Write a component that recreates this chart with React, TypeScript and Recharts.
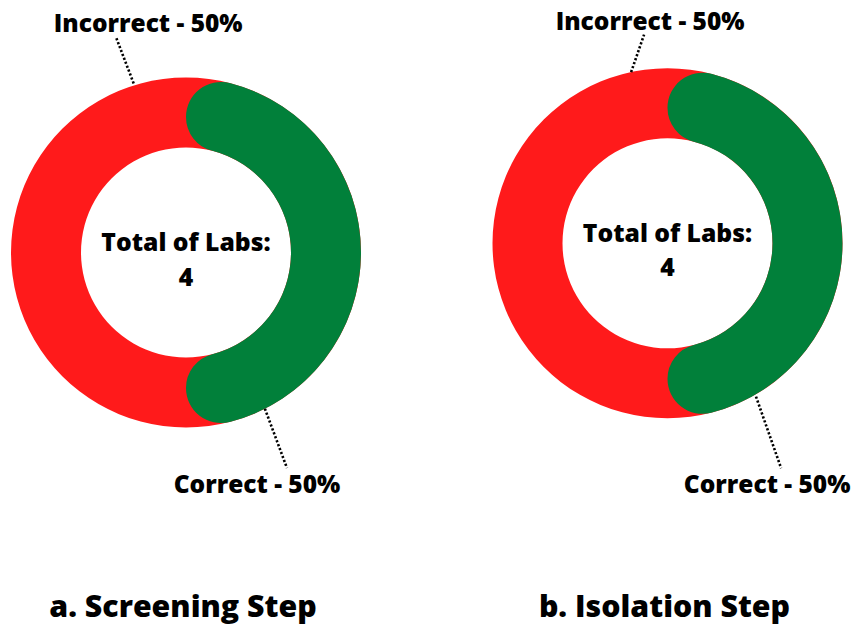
import { PieChart, Pie, Cell } from 'recharts';

// data
const categories = ['Incorrect', 'Correct'];
const screeningValues = [2, 2];
const isolationValues = [2, 2];
const stepTitles = ['a. Screening Step', 'b. Isolation Step'];
const centerCaption = 'Total of Labs:';

const COLORS: Record<string, string> = { Incorrect: '#FF1A1B', Correct: '#01803A' };
const FONT = '"Open Sans", sans-serif';

const toRows = (values: number[]) => categories.map((name, i) => ({ name, value: values[i] }));

// leader lines: start/end angle (deg) + radius offset from the ring, text offset from line end
const LEADERS = [
  {
    Incorrect: { a1: 107.2, r1: 2, a2: 108, r2: 51, tx: 32, ty: -6 },
    Correct: { a1: -63.2, r1: 0, a2: -64.9, r2: 63, tx: -30, ty: 25 },
  },
  {
    Incorrect: { a1: 102, r1: 0, a2: 96.4, r2: 35, tx: 6, ty: -5 },
    Correct: { a1: -60, r1: 2, a2: -63.2, r2: 77, tx: -14, ty: 25 },
  },
];

const CHARTS = [
  { cx: 186, cy: 252.5, rows: toRows(screeningValues), title: stepTitles[0] },
  { cx: 667.5, cy: 243.3, rows: toRows(isolationValues), title: stepTitles[1] },
];

const OUTER = 175;
const INNER = 105;
const RAD = Math.PI / 180;

const polar = (cx: number, cy: number, r: number, a: number) => ({
  x: cx + r * Math.cos(a * RAD),
  y: cy - r * Math.sin(a * RAD),
});

function makeLabel(chartIdx: number, total: number) {
  return (props: any) => {
    const { cx, cy, outerRadius, name, value } = props;
    const l = (LEADERS[chartIdx] as any)[name];
    if (!l) return null;
    const p1 = polar(cx, cy, outerRadius + l.r1, l.a1);
    const p2 = polar(cx, cy, outerRadius + l.r2, l.a2);
    const pct = Math.round((value / total) * 100);
    return (
      <g key={`lbl-${chartIdx}-${name}`}>
        <line x1={p1.x} y1={p1.y} x2={p2.x} y2={p2.y} stroke="#000" strokeWidth={2.6} strokeDasharray="2.2 2" />
        <text
          x={p2.x + l.tx}
          y={p2.y + l.ty}
          textAnchor="middle"
          fontFamily={FONT}
          fontWeight={800}
          fontSize={24.5}
          fill="#000"
        >
          {`${name} - ${pct}%`}
        </text>
      </g>
    );
  };
}

export default function App() {
  return (
    <div style={{ position: 'absolute', left: 0, top: 0, width: 852, height: 628, background: '#fff' }}>
      <PieChart width={852} height={628} margin={{ top: 0, right: 0, bottom: 0, left: 0 }}>
        {CHARTS.map((c, ci) => {
          const total = c.rows.reduce((s, r) => s + r.value, 0);
          return [
            // red track under the whole ring
            <Pie
              key={`track-${ci}`}
              data={[{ name: 'track', value: total }]}
              dataKey="value"
              cx={c.cx}
              cy={c.cy}
              innerRadius={INNER}
              outerRadius={OUTER}
              startAngle={90}
              endAngle={450}
              stroke="none"
              fill={COLORS.Incorrect}
              isAnimationActive={false}
            />,
            <Pie
              key={`pie-${ci}`}
              data={c.rows}
              dataKey="value"
              nameKey="name"
              cx={c.cx}
              cy={c.cy}
              innerRadius={INNER}
              outerRadius={OUTER}
              startAngle={90}
              endAngle={450}
              cornerRadius={(OUTER - INNER) / 2}
              stroke="none"
              label={makeLabel(ci, total)}
              labelLine={false}
              isAnimationActive={false}
            >
              {c.rows.map((r) => (
                <Cell
                  key={r.name}
                  fill={r.name === 'Correct' ? COLORS.Correct : COLORS.Incorrect}
                  fillOpacity={r.name === 'Correct' ? 1 : 0}
                />
              ))}
            </Pie>,
          ];
        })}
        {CHARTS.map((c, ci) => {
          const total = c.rows.reduce((s, r) => s + r.value, 0);
          return (
            <g key={`txt-${ci}`} fontFamily={FONT} fontWeight={800} fill="#000" textAnchor="middle">
              <text x={c.cx} y={c.cy - 1.5} fontSize={24.7}>{centerCaption}</text>
              <text x={c.cx} y={c.cy + 33} fontSize={24.7}>{total}</text>
              <text x={c.cx - 3} y={617} fontSize={30.3}>{c.title}</text>
            </g>
          );
        })}
      </PieChart>
    </div>
  );
}
